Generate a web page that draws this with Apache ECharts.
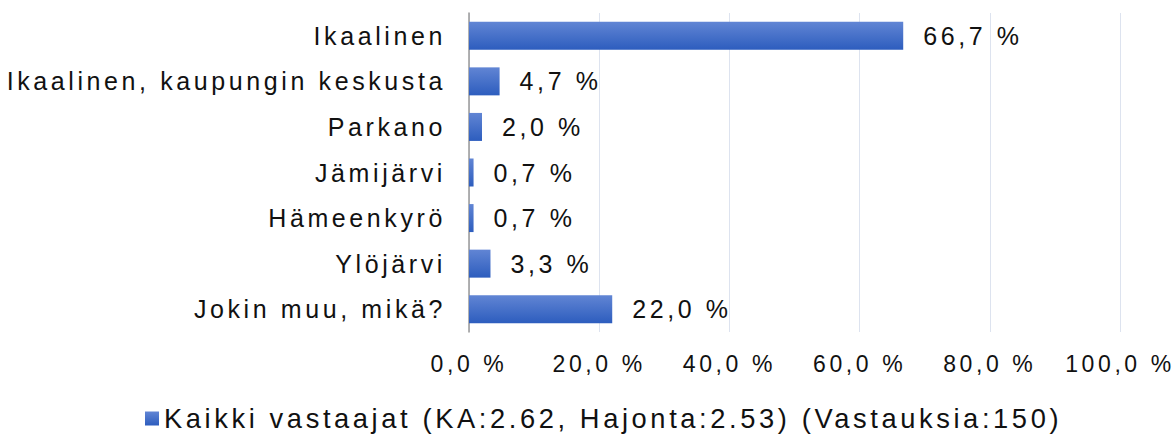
<!DOCTYPE html>
<html>
<head>
<meta charset="utf-8">
<script src="https://cdn.jsdelivr.net/npm/echarts@6/dist/echarts.min.js"></script>
<style>
  html, body { margin: 0; padding: 0; background: #fff; }
  #chart { width: 1176px; height: 435px; letter-spacing: 3.6px; }
</style>
</head>
<body>
<div id="chart"></div>
<script>
var categories = ['Ikaalinen', 'Ikaalinen, kaupungin keskusta', 'Parkano', 'Jämijärvi', 'Hämeenkyrö', 'Ylöjärvi', 'Jokin muu, mikä?'];
var values = [66.7, 4.7, 2.0, 0.7, 0.7, 3.3, 22.0];
var seriesName = 'Kaikki vastaajat (KA:2.62, Hajonta:2.53) (Vastauksia:150)';

function pct(v) {
    return v.toFixed(1).replace('.', ',') + ' %';
}

var chart = echarts.init(document.getElementById('chart'), null, { renderer: 'svg' });
var font = 'Liberation Sans, Arial, sans-serif';
var option = {
    animation: false,
    grid: { left: 469, right: 56, top: 13, bottom: 103, containLabel: false },
    legend: {
        left: 140,
        top: 400,
        itemWidth: 14,
        itemHeight: 14,
        icon: 'rect',
        textStyle: { fontFamily: font, fontSize: 27.3, color: '#111' },
        data: [seriesName]
    },
    xAxis: {
        type: 'value',
        min: 0,
        max: 100,
        interval: 20,
        axisLine: { show: false },
        axisTick: { show: false },
        splitLine: { lineStyle: { color: '#dde3ef', width: 1 } },
        axisLabel: {
            margin: 20,
            fontFamily: font, fontSize: 23, color: '#111',
            formatter: pct
        }
    },
    yAxis: {
        type: 'category',
        inverse: true,
        data: categories,
        axisLine: { show: true, lineStyle: { color: '#999', width: 1.5 } },
        axisTick: { show: false },
        axisLabel: { margin: 23, fontFamily: font, fontSize: 25, color: '#111' }
    },
    series: [{
        name: seriesName,
        type: 'bar',
        data: values,
        barWidth: 28,
        itemStyle: {
            color: new echarts.graphic.LinearGradient(0, 0, 0, 1, [
                { offset: 0, color: '#6185d4' },
                { offset: 1, color: '#2d5dbe' }
            ])
        },
        label: {
            show: true,
            position: 'right',
            distance: 20,
            fontFamily: font, fontSize: 25, color: '#111',
            formatter: function (p) { return pct(p.value); }
        }
    }]
};
chart.setOption(option);
</script>
</body>
</html>
